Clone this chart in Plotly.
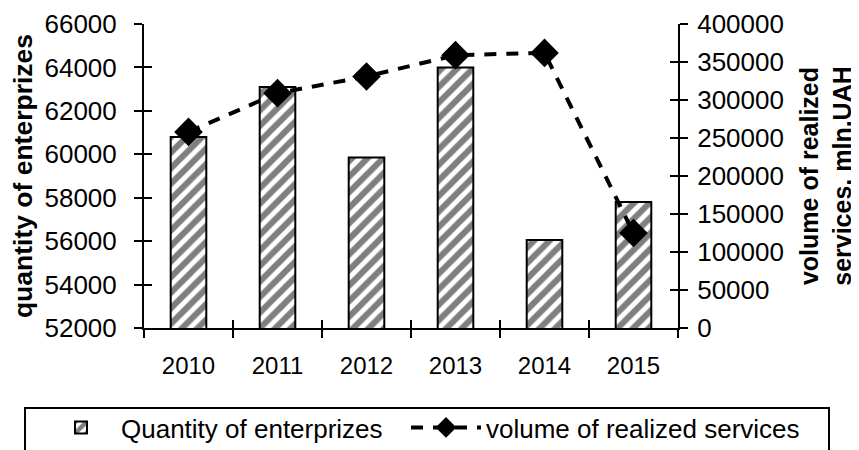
import plotly.graph_objects as go

years = ["2010", "2011", "2012", "2013", "2014", "2015"]
enterprises = [60800, 63100, 59850, 64000, 56050, 57800]
services = [258000, 309000, 331000, 359000, 362000, 125000]

left_ticks = list(range(52000, 66001, 2000))
right_ticks = list(range(0, 400001, 50000))

FONT = "Liberation Sans, Arial, sans-serif"
# the page body has an 8px margin, so the figure is drawn 8px in from the corner
W, H = 851, 442
L, R, T, B = 136, 181, 16, 122
PW, PH = W - L - R, H - T - B

fig = go.Figure()
fig.add_trace(go.Bar(
    x=years, y=enterprises, name="Quantity of enterprizes",
    width=0.4, legend="legend",
    marker=dict(color="white", line=dict(color="black", width=2),
                pattern=dict(shape="/", fgcolor="black", bgcolor="white",
                             size=11, solidity=0.55)),
    xaxis="x", yaxis="y",
))
fig.add_trace(go.Scatter(
    x=years, y=services, name="volume of realized services",
    mode="lines+markers", legend="legend2",
    line=dict(color="black", width=4, dash="12px,10px"),
    marker=dict(symbol="diamond", size=22, color="black"),
    xaxis="x", yaxis="y2",
))
# invisible helpers so that the inside-tick overlay axes are drawn
fig.add_trace(go.Scatter(x=years, y=enterprises, mode="none", showlegend=False,
                         hoverinfo="skip", xaxis="x3", yaxis="y3"))
fig.add_trace(go.Scatter(x=years, y=services, mode="none", showlegend=False,
                         hoverinfo="skip", xaxis="x", yaxis="y4"))

axis_line = dict(showline=True, linecolor="black", linewidth=2, automargin=False,
                 ticklen=8, tickwidth=2, tickcolor="black", showgrid=False,
                 zeroline=False)
inner = dict(showline=False, ticklen=8, tickwidth=2, tickcolor="black",
             automargin=False, showgrid=False, zeroline=False)

fig.update_layout(
    width=W, height=H,
    margin=dict(l=L, r=R, t=T, b=B),
    paper_bgcolor="white", plot_bgcolor="white",
    font=dict(family=FONT, size=25, color="black"),
    xaxis=dict(type="category", categoryorder="array", categoryarray=years,
               range=[-0.5, 5.5], ticks="outside", tickson="boundaries",
               ticklabelstandoff=15, tickfont=dict(size=24), **axis_line),
    xaxis3=dict(type="category", categoryorder="array", categoryarray=years,
                overlaying="x", anchor="y3", range=[-0.5, 5.5], tickson="boundaries",
                ticks="inside", showticklabels=False, **inner),
    yaxis=dict(range=[52000, 66000], tickvals=left_ticks, tickformat="d",
               ticks="outside", ticklabelstandoff=12, tickfont=dict(size=26),
               title=dict(text="<b>quantity of enterprizes</b>", font=dict(size=26.5),
                          standoff=10),
               **axis_line),
    yaxis3=dict(overlaying="y", anchor="x3", side="left", range=[52000, 66000],
                tickvals=left_ticks, ticks="inside", showticklabels=False, **inner),
    yaxis2=dict(overlaying="y", side="right", anchor="x", range=[0, 400000],
                tickvals=right_ticks, tickformat="d", ticks="outside",
                ticklabelstandoff=4, tickfont=dict(size=26),
                title=dict(text="<b>volume of realized<br>services, mln.UAH</b>",
                           font=dict(size=25), standoff=18),
                **axis_line),
    yaxis4=dict(overlaying="y", side="right", anchor="x", range=[0, 400000],
                tickvals=right_ticks, ticks="inside", showticklabels=False, **inner),
    legend=dict(orientation="h", xref="container", yref="container",
                x=33/W, y=1-396/H, xanchor="left", yanchor="top",
                bgcolor="rgba(0,0,0,0)", borderwidth=0,
                font=dict(size=26), itemwidth=70),
    legend2=dict(orientation="h", xref="container", yref="container",
                 x=398/W, y=1-396/H, xanchor="left", yanchor="top",
                 bgcolor="rgba(0,0,0,0)", borderwidth=0,
                 font=dict(size=26), itemwidth=70),
    showlegend=True,
    shapes=[dict(type="rect", xref="paper", yref="paper",
                 x0=(17 - L) / PW, x1=(821 - L) / PW,
                 y0=(H - B - 452) / PH, y1=(H - B - 400) / PH,
                 line=dict(color="black", width=2), fillcolor="rgba(0,0,0,0)")],
)

fig.write_html("out.html")
